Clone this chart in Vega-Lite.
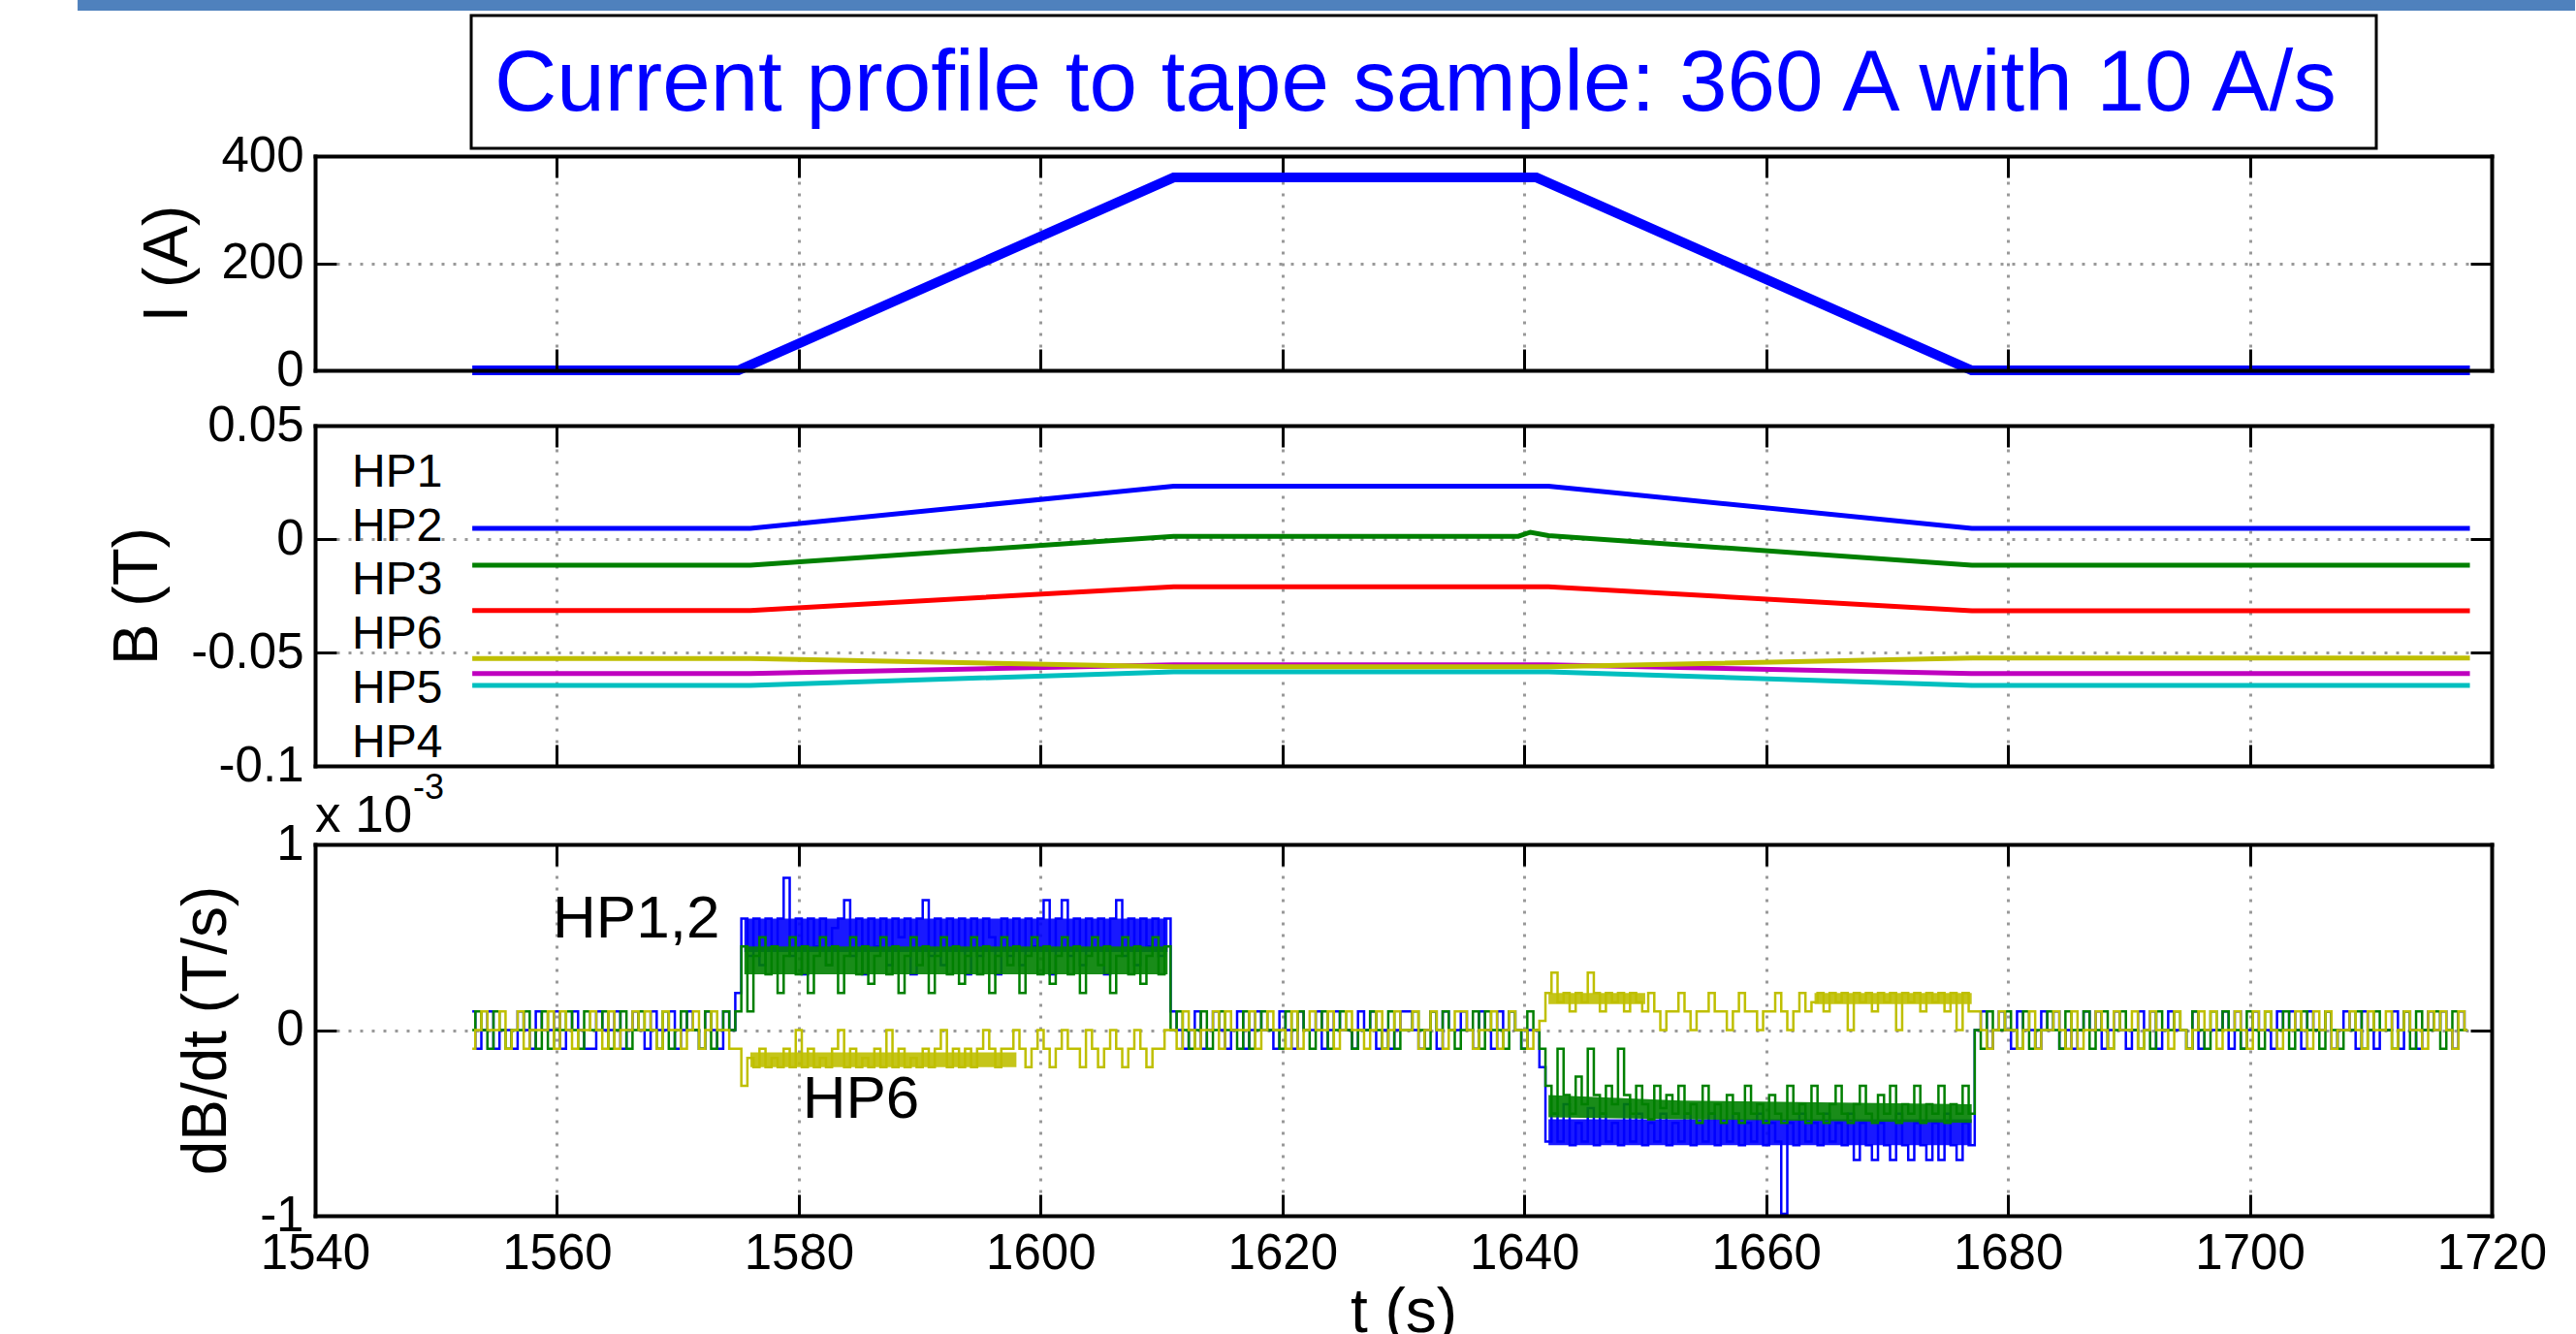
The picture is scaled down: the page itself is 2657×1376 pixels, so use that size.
{
  "$schema": "https://vega.github.io/schema/vega-lite/v6.json",
  "background": "white",
  "padding": {"left": 80, "top": 0, "right": 0, "bottom": 0},
  "config": {
    "font": "Liberation Sans",
    "view": {"stroke": null},
    "axis": {
      "domainColor": "black", "domainWidth": 4, "domainCap": "square",
      "tickColor": "black", "tickWidth": 3, "tickSize": -22,
      "labelFont": "Liberation Sans", "labelFontSize": 51, "labelColor": "black",
      "labelPadding": 34, "labelFlush": false, "labelOverlap": false,
      "titleFont": "Liberation Sans", "titleFontSize": 64, "titleFontWeight": "normal", "titleColor": "black",
      "titlePadding": 22,
      "gridColor": "#999999", "gridDash": [3, 9], "gridWidth": 3, "gridOpacity": 1
    }
  },
  "datasets": {
    "cur": [
      {"t": 1553, "I": 0}, {"t": 1575, "I": 0}, {"t": 1611, "I": 360},
      {"t": 1641, "I": 360}, {"t": 1677, "I": 0}, {"t": 1718.2, "I": 0}
    ],
    "bfield": [
      {"hp": "HP1", "t": 1553, "B": 0.0047}, {"hp": "HP1", "t": 1576, "B": 0.0047}, {"hp": "HP1", "t": 1611, "B": 0.0233}, {"hp": "HP1", "t": 1642, "B": 0.0233}, {"hp": "HP1", "t": 1677, "B": 0.0047}, {"hp": "HP1", "t": 1718.2, "B": 0.0047},
      {"hp": "HP2", "t": 1553, "B": -0.0115}, {"hp": "HP2", "t": 1576, "B": -0.0115}, {"hp": "HP2", "t": 1611, "B": 0.0012}, {"hp": "HP2", "t": 1639.5, "B": 0.0012}, {"hp": "HP2", "t": 1640.5, "B": 0.003}, {"hp": "HP2", "t": 1642, "B": 0.0015}, {"hp": "HP2", "t": 1677, "B": -0.0115}, {"hp": "HP2", "t": 1718.2, "B": -0.0115},
      {"hp": "HP3", "t": 1553, "B": -0.0315}, {"hp": "HP3", "t": 1576, "B": -0.0315}, {"hp": "HP3", "t": 1611, "B": -0.021}, {"hp": "HP3", "t": 1642, "B": -0.021}, {"hp": "HP3", "t": 1677, "B": -0.0316}, {"hp": "HP3", "t": 1718.2, "B": -0.0316},
      {"hp": "HP4", "t": 1553, "B": -0.0645}, {"hp": "HP4", "t": 1576, "B": -0.0645}, {"hp": "HP4", "t": 1611, "B": -0.0585}, {"hp": "HP4", "t": 1642, "B": -0.0585}, {"hp": "HP4", "t": 1677, "B": -0.0645}, {"hp": "HP4", "t": 1718.2, "B": -0.0645},
      {"hp": "HP5", "t": 1553, "B": -0.0593}, {"hp": "HP5", "t": 1576, "B": -0.0593}, {"hp": "HP5", "t": 1611, "B": -0.0555}, {"hp": "HP5", "t": 1642, "B": -0.0555}, {"hp": "HP5", "t": 1677, "B": -0.0593}, {"hp": "HP5", "t": 1718.2, "B": -0.0593},
      {"hp": "HP6", "t": 1553, "B": -0.0527}, {"hp": "HP6", "t": 1576, "B": -0.0527}, {"hp": "HP6", "t": 1611, "B": -0.0563}, {"hp": "HP6", "t": 1642, "B": -0.0563}, {"hp": "HP6", "t": 1677, "B": -0.0525}, {"hp": "HP6", "t": 1718.2, "B": -0.0525}
    ],
    "bands": [
      {"s": "b", "id": "bB", "t": 1575.5, "lo": 0.42, "hi": 0.6}, {"s": "b", "id": "bB", "t": 1610.5, "lo": 0.42, "hi": 0.6},
      {"s": "b", "id": "bD", "t": 1642, "lo": -0.48, "hi": -0.62}, {"s": "b", "id": "bD", "t": 1677, "lo": -0.48, "hi": -0.62},
      {"s": "g", "id": "gB", "t": 1575.5, "lo": 0.3, "hi": 0.45}, {"s": "g", "id": "gB", "t": 1610.5, "lo": 0.3, "hi": 0.45},
      {"s": "g", "id": "gD", "t": 1642, "lo": -0.35, "hi": -0.47}, {"s": "g", "id": "gD", "t": 1653, "lo": -0.38, "hi": -0.48}, {"s": "g", "id": "gD", "t": 1677, "lo": -0.4, "hi": -0.5},
      {"s": "y", "id": "yB", "t": 1576, "lo": -0.12, "hi": -0.2}, {"s": "y", "id": "yB", "t": 1598, "lo": -0.12, "hi": -0.2},
      {"s": "y", "id": "yD1", "t": 1642, "lo": 0.14, "hi": 0.2}, {"s": "y", "id": "yD1", "t": 1650, "lo": 0.14, "hi": 0.2},
      {"s": "y", "id": "yD2", "t": 1664, "lo": 0.14, "hi": 0.2}, {"s": "y", "id": "yD2", "t": 1677, "lo": 0.14, "hi": 0.2}
    ],
    "dbdt": [
      {
        "t": [1553,1553.5,1554,1554.5,1555,1555.5,1556,1556.5,1557,1557.5,1558,1558.5,1559,1559.5,1560,1560.5,1561,1561.5,1562,1562.5,1563,1563.5,1564,1564.5,1565,1565.5,1566,1566.5,1567,1567.5,1568,1568.5,1569,1569.5,1570,1570.5,1571,1571.5,1572,1572.5,1573,1573.5,1574,1574.5],
        "vb": [0.1,-0.1,0,0.1,-0.1,0,0,-0.1,0.1,0,-0.1,0.1,0,0,0.1,-0.1,0,0.1,0,-0.1,-0.1,0.1,0,0,0.1,-0.1,0,0.1,0,-0.1,0.1,0,0,0.1,-0.1,0,0.1,0,-0.1,0.1,0,-0.1,0.1,0],
        "vg": [0,0.1,0,-0.1,0.1,0,-0.1,0,0,0.1,0,-0.1,0.1,-0.1,0,0,0.1,0,-0.1,0.1,0,0,0.1,-0.1,0,0.1,-0.1,0,0.1,0,0,-0.1,0.1,-0.1,0,0.1,0,0,-0.1,0.1,-0.1,0,0.1,0],
        "vy": [-0.1,0,0.1,0,0,0.1,-0.1,0,0.1,-0.1,0,0,0,0.1,-0.1,0.1,0,-0.1,0,0,0.1,0,-0.1,0.1,-0.1,0,0,0.1,0,0.1,0,-0.1,0.1,0,0,-0.1,0,0.1,-0.1,0,0.1,0,0,-0.1]
      },
      {
        "t": [1575,1575.5,1576,1576.5,1577,1577.5,1578,1578.5,1579,1579.5,1580,1580.5,1581,1581.5,1582,1582.5,1583,1583.5,1584,1584.5,1585,1585.5,1586,1586.5,1587,1587.5,1588,1588.5,1589,1589.5,1590,1590.5,1591,1591.5,1592,1592.5,1593,1593.5,1594,1594.5,1595,1595.5,1596,1596.5,1597,1597.5,1598,1598.5,1599,1599.5,1600,1600.5,1601,1601.5,1602,1602.5,1603,1603.5,1604,1604.5,1605,1605.5,1606,1606.5,1607,1607.5,1608,1608.5,1609,1609.5,1610,1610.5],
        "vb": [0.2,0.6,0.4,0.6,0.35,0.6,0.45,0.6,0.82,0.4, 0.6,0.3,0.6,0.45,0.6,0.35,0.55,0.6,0.7,0.4, 0.6,0.3,0.6,0.45,0.6,0.35,0.6,0.5,0.6,0.3, 0.6,0.7,0.4,0.6,0.35,0.6,0.45,0.6,0.3,0.6, 0.4,0.6,0.5,0.3,0.6,0.4,0.6,0.35,0.6,0.45, 0.6,0.7,0.3,0.6,0.7,0.4,0.6,0.35,0.6,0.5, 0.6,0.3,0.6,0.7,0.4,0.6,0.35,0.6,0.45,0.6, 0.4,0.6],
        "vg": [0.1,0.45,0.1,0.4,0.5,0.3,0.45,0.2,0.4,0.5, 0.3,0.45,0.2,0.4,0.5,0.35,0.45,0.2,0.4,0.5, 0.3,0.45,0.25,0.4,0.5,0.3,0.45,0.2,0.4,0.5, 0.35,0.45,0.2,0.4,0.5,0.3,0.45,0.25,0.4,0.5, 0.3,0.45,0.2,0.4,0.5,0.35,0.45,0.2,0.4,0.5, 0.3,0.45,0.25,0.4,0.5,0.3,0.45,0.2,0.4,0.5, 0.35,0.45,0.2,0.4,0.5,0.3,0.45,0.25,0.4,0.5, 0.3,0.45],
        "vy": [-0.1,-0.3,-0.15,-0.2,-0.1,-0.2,-0.15,-0.2,-0.1,-0.2, 0,-0.2,-0.1,-0.2,-0.15,-0.2,-0.1,0,-0.2,-0.1, -0.2,-0.15,-0.2,-0.1,-0.2,0,-0.2,-0.1,-0.2,-0.15, -0.2,-0.1,-0.2,-0.1,0,-0.2,-0.1,-0.2,-0.1,-0.2, -0.1,0,-0.1,-0.2,-0.1,-0.1,0,-0.1,-0.2,-0.1, 0,-0.1,-0.2,-0.1,0,-0.1,-0.1,-0.2,0,-0.1, -0.2,-0.1,0,-0.1,-0.2,-0.1,0,-0.1,-0.2,-0.1, -0.1,0]
      },
      {
        "t": [1611,1611.5,1612,1612.5,1613,1613.5,1614,1614.5,1615,1615.5,1616,1616.5,1617,1617.5,1618,1618.5,1619,1619.5,1620,1620.5,1621,1621.5,1622,1622.5,1623,1623.5,1624,1624.5,1625,1625.5,1626,1626.5,1627,1627.5,1628,1628.5,1629,1629.5,1630,1630.5,1631,1631.5,1632,1632.5,1633,1633.5,1634,1634.5,1635,1635.5,1636,1636.5,1637,1637.5,1638,1638.5,1639,1639.5,1640,1640.5,1641],
        "vb": [0.1,0,-0.1,0,0.1,-0.1,0,0.1,0,-0.1, 0,0.1,-0.1,0,0.1,0,0,-0.1,0.1,0, -0.1,0.1,0,0,0.1,-0.1,0,0.1,0,0, -0.1,0.1,0,0.1,-0.1,0,-0.1,0,0.1,0.1, 0,-0.1,0,0.1,-0.1,0.1,0,0,0.1,0, -0.1,0.1,0,-0.1,0.1,0,0.1,0,-0.1,0, 0],
        "vg": [0,0.1,0,-0.1,0,0.1,-0.1,0,0.1,0, 0,-0.1,0.1,-0.1,0,0.1,0,0,-0.1,0.1, 0,0.1,0,-0.1,0,0.1,-0.1,0,0.1,0, -0.1,0,0,0.1,0,-0.1,0.1,-0.1,0,0, 0.1,0,-0.1,0.1,0,0.1,0,-0.1,0,0, 0.1,-0.1,0.1,0,0,-0.1,0.1,0,-0.1,0.1, 0],
        "vy": [0,-0.1,0.1,0,-0.1,0,0,0.1,-0.1,0.1, 0,0,0,0.1,-0.1,0,0.1,0,0,-0.1, 0.1,-0.1,0,0.1,0,0,0.1,-0.1,0,0.1, 0,0,-0.1,0,0.1,-0.1,0,0.1,0,0, 0.1,-0.1,0,0.1,0,-0.1,0,0.1,0.1,0, -0.1,0,0,0.1,-0.1,0,0.1,0,0,-0.1, 0]
      },
      {
        "t": [1641.5,1642,1642.5,1643,1643.5,1644,1644.5,1645,1645.5,1646,1646.5,1647,1647.5,1648,1648.5,1649,1649.5,1650,1650.5,1651,1651.5,1652,1652.5,1653,1653.5,1654,1654.5,1655,1655.5,1656,1656.5,1657,1657.5,1658,1658.5,1659,1659.5,1660,1660.5,1661,1661.5,1662,1662.5,1663,1663.5,1664,1664.5,1665,1665.5,1666,1666.5,1667,1667.5,1668,1668.5,1669,1669.5,1670,1670.5,1671,1671.5,1672,1672.5,1673,1673.5,1674,1674.5,1675,1675.5,1676,1676.5,1677],
        "vb": [-0.2,-0.6,-0.45,-0.6,-0.4,-0.62,-0.5,-0.6,-0.42,-0.62, -0.45,-0.6,-0.5,-0.62,-0.4,-0.6,-0.45,-0.62,-0.5,-0.6, -0.45,-0.62,-0.5,-0.6,-0.45,-0.62,-0.5,-0.6,-0.45,-0.62, -0.5,-0.6,-0.45,-0.62,-0.5,-0.6,-0.45,-0.62,-0.5,-0.6, -0.99,-0.5,-0.62,-0.45,-0.6,-0.5,-0.62,-0.45,-0.6,-0.5, -0.62,-0.45,-0.7,-0.5,-0.62,-0.7,-0.5,-0.62,-0.7,-0.45, -0.62,-0.7,-0.5,-0.62,-0.7,-0.5,-0.7,-0.45,-0.62,-0.7, -0.5,-0.62],
        "vg": [-0.1,-0.3,-0.45,-0.1,-0.35,-0.45,-0.25,-0.4,-0.1,-0.35, -0.45,-0.3,-0.4,-0.1,-0.35,-0.45,-0.3,-0.4,-0.48,-0.3, -0.42,-0.35,-0.45,-0.3,-0.45,-0.4,-0.5,-0.3,-0.45,-0.4, -0.5,-0.35,-0.45,-0.5,-0.3,-0.45,-0.4,-0.5,-0.35,-0.45, -0.5,-0.3,-0.45,-0.4,-0.5,-0.3,-0.45,-0.5,-0.4,-0.3, -0.45,-0.5,-0.4,-0.3,-0.45,-0.5,-0.35,-0.45,-0.3,-0.5, -0.4,-0.45,-0.3,-0.5,-0.4,-0.45,-0.3,-0.5,-0.4,-0.45, -0.3,-0.45],
        "vy": [0.05,0.2,0.31,0.15,0.2,0.1,0.2,0.15,0.31,0.2, 0.1,0.2,0.15,0.2,0.1,0.2,0.15,0.1,0.2,0.1, 0,0.1,0.1,0.2,0.1,0,0.1,0.1,0.2,0.1, 0.1,0,0.1,0.2,0.1,0.1,0,0.1,0.1,0.2, 0.1,0,0.1,0.2,0.1,0.15,0.2,0.1,0.2,0.15, 0.2,0,0.2,0.15,0.2,0.1,0.2,0.15,0.2,0, 0.2,0.15,0.2,0.1,0.2,0.15,0.2,0.1,0.2,0, 0.2,0.1]
      },
      {
        "t": [1677.5,1678,1678.5,1679,1679.5,1680,1680.5,1681,1681.5,1682,1682.5,1683,1683.5,1684,1684.5,1685,1685.5,1686,1686.5,1687,1687.5,1688,1688.5,1689,1689.5,1690,1690.5,1691,1691.5,1692,1692.5,1693,1693.5,1694,1694.5,1695,1695.5,1696,1696.5,1697,1697.5,1698,1698.5,1699,1699.5,1700,1700.5,1701,1701.5,1702,1702.5,1703,1703.5,1704,1704.5,1705,1705.5,1706,1706.5,1707,1707.5,1708,1708.5,1709,1709.5,1710,1710.5,1711,1711.5,1712,1712.5,1713,1713.5,1714,1714.5,1715,1715.5,1716,1716.5,1717,1717.5,1718],
        "vb": [0,0.1,-0.1,0,0.1,0,-0.1,0.1,0,0, -0.1,0.1,0,0.1,-0.1,0,-0.1,0,0.1,0, 0.1,-0.1,0,0.1,0,-0.1,0,0.1,0,0.1, -0.1,0,0.1,0,0,-0.1,0.1,-0.1,0,0, 0,0.1,-0.1,0.1,-0.1,0,0.1,0,0,-0.1, 0.1,0,0.1,0,-0.1,0.1,0,0,0.1,-0.1, 0,0.1,0,-0.1,0.1,0,-0.1,0,0,0.1, -0.1,0.1,0,-0.1,0,0.1,0,0.1,0,-0.1, 0.1,0],
        "vg": [0,-0.1,0.1,0,0,0.1,0,-0.1,0.1,-0.1, 0,0,0.1,0,-0.1,0.1,0,0,0.1,-0.1, 0,0.1,-0.1,0,0.1,0,0,-0.1,0,-0.1, 0.1,0,0,0.1,0,-0.1,0.1,0,-0.1,0.1, 0,0.1,0,0,-0.1,0.1,0,-0.1,0.1,0, 0,0.1,-0.1,0,0.1,0,0,-0.1,0.1,0, -0.1,0,0,0.1,-0.1,0,0.1,0,0,-0.1, 0,0.1,-0.1,0.1,0,0,0.1,-0.1,0,0.1, 0,0],
        "vy": [0.1,0,-0.1,0,0.1,0,0,-0.1,0,0.1, -0.1,0,0,0.1,0,-0.1,0.1,-0.1,0,0, 0.1,0,-0.1,0.1,0,0,0.1,-0.1,0,0.1, 0,0,-0.1,0.1,0,-0.1,0,0.1,0,0.1, -0.1,0,0,0.1,0,-0.1,0.1,0,0.1,0, -0.1,0,0,0.1,0,-0.1,0.1,0,0.1,-0.1, 0,0,0.1,0,-0.1,0.1,0,0,0.1,-0.1, 0,0.1,0,0,-0.1,0.1,0,0.1,0,-0.1, 0.1,0]
      }
    ]
  },
  "spacing": 0,
  "bounds": "flush",
  "vconcat": [
    {
      "width": 2245,
      "height": 221,
      "resolve": {"axis": {"x": "independent", "y": "independent"}},
      "layer": [
        {
          "data": {"values": [{"t1": 1520.36, "t2": 1726.9, "i1": 671.5, "i2": 691.4}]},
          "mark": {"type": "rect", "color": "#4F81BD"},
          "encoding": {
            "x": {"field": "t1", "type": "quantitative", "scale": {"domain": [1540, 1720], "nice": false, "zero": false}, "axis": null},
            "x2": {"field": "t2"},
            "y": {"field": "i1", "type": "quantitative", "scale": {"domain": [0, 400], "nice": false, "zero": false}, "axis": null},
            "y2": {"field": "i2"}
          }
        },
        {
          "data": {"values": [{"t1": 1552.91, "t2": 1710.46, "i1": 414.5, "i2": 662.4}]},
          "mark": {"type": "rect", "fill": "white", "stroke": "black", "strokeWidth": 3},
          "encoding": {
            "x": {"field": "t1", "type": "quantitative", "scale": {"domain": [1540, 1720], "nice": false, "zero": false}, "axis": null},
            "x2": {"field": "t2"},
            "y": {"field": "i1", "type": "quantitative", "scale": {"domain": [0, 400], "nice": false, "zero": false}, "axis": null},
            "y2": {"field": "i2"}
          }
        },
        {
          "data": {"values": [{"t": 1631.0, "i": 485.1, "label": "Current profile to tape sample: 360 A with 10 A/s"}]},
          "mark": {"type": "text", "font": "Liberation Sans", "fontSize": 89, "color": "#0000FF", "align": "center", "baseline": "alphabetic"},
          "encoding": {
            "x": {"field": "t", "type": "quantitative", "scale": {"domain": [1540, 1720], "nice": false, "zero": false},
                  "axis": {"orient": "top", "values": [1540,1560,1580,1600,1620,1640,1660,1680,1700,1720], "labels": false, "title": null, "grid": true, "zindex": 0}},
            "y": {"field": "i", "type": "quantitative", "scale": {"domain": [0, 400], "nice": false, "zero": false},
                  "axis": {"orient": "right", "values": [0, 200, 400], "labels": false, "title": null, "grid": true, "zindex": 0}},
            "text": {"field": "label"}
          }
        },
        {
          "data": {"name": "cur"},
          "mark": {"type": "line", "color": "#0000FF", "strokeWidth": 10},
          "encoding": {
            "x": {"field": "t", "type": "quantitative", "scale": {"domain": [1540, 1720], "nice": false, "zero": false},
                  "axis": {"orient": "bottom", "values": [1540,1560,1580,1600,1620,1640,1660,1680,1700,1720], "labels": false, "title": null, "grid": false, "zindex": 1}},
            "y": {"field": "I", "type": "quantitative", "scale": {"domain": [0, 400], "nice": false, "zero": false},
                  "axis": {"orient": "left", "values": [0, 200, 400], "format": "d", "title": "I (A)", "grid": false, "zindex": 1}}
          }
        }
      ]
    },
    {
      "width": 2245,
      "height": 57,
      "data": {"values": []},
      "mark": {"type": "point", "opacity": 0},
      "encoding": {}
    },
    {
      "width": 2245,
      "height": 351,
      "resolve": {"axis": {"x": "independent", "y": "independent"}},
      "layer": [
        {
          "data": {"name": "bfield"},
          "mark": {"type": "line", "strokeWidth": 5},
          "encoding": {
            "x": {"field": "t", "type": "quantitative", "scale": {"domain": [1540, 1720], "nice": false, "zero": false},
                  "axis": {"orient": "bottom", "values": [1540,1560,1580,1600,1620,1640,1660,1680,1700,1720], "labels": false, "title": null, "grid": false, "zindex": 1}},
            "y": {"field": "B", "type": "quantitative", "scale": {"domain": [-0.1, 0.05], "nice": false, "zero": false},
                  "axis": {"orient": "left", "values": [-0.1, -0.05, 0, 0.05], "format": "~g", "labelExpr": "replace(datum.label, '\u2212', '-')", "title": "B (T)", "grid": false, "zindex": 1}},
            "color": {"field": "hp", "type": "nominal",
                      "scale": {"domain": ["HP1","HP2","HP3","HP4","HP5","HP6"], "range": ["#0000FF","#008000","#FF0000","#00BFBF","#BF00BF","#BFBF00"]},
                      "legend": null}
          }
        },
        {
          "data": {"values": [
            {"t": 1543.05, "B": 0.0232, "label": "HP1"},
            {"t": 1543.05, "B": -0.0009, "label": "HP2"},
            {"t": 1543.05, "B": -0.0244, "label": "HP3"},
            {"t": 1543.05, "B": -0.0483, "label": "HP6"},
            {"t": 1543.05, "B": -0.0721, "label": "HP5"},
            {"t": 1543.05, "B": -0.0960, "label": "HP4"}
          ]},
          "mark": {"type": "text", "font": "Liberation Sans", "fontSize": 48, "color": "black", "align": "left", "baseline": "alphabetic"},
          "encoding": {
            "x": {"field": "t", "type": "quantitative", "scale": {"domain": [1540, 1720], "nice": false, "zero": false},
                  "axis": {"orient": "top", "values": [1540,1560,1580,1600,1620,1640,1660,1680,1700,1720], "labels": false, "title": null, "grid": true, "zindex": 0}},
            "y": {"field": "B", "type": "quantitative", "scale": {"domain": [-0.1, 0.05], "nice": false, "zero": false},
                  "axis": {"orient": "right", "values": [-0.1, -0.05, 0, 0.05], "labels": false, "title": null, "grid": true, "zindex": 0}},
            "text": {"field": "label"}
          }
        }
      ]
    },
    {
      "width": 2245,
      "height": 81,
      "data": {"values": []},
      "mark": {"type": "point", "opacity": 0},
      "encoding": {}
    },
    {
      "width": 2245,
      "height": 383,
      "resolve": {"axis": {"x": "independent", "y": "independent"}},
      "layer": [
        {
          "data": {"name": "bands"},
          "transform": [{"filter": "datum.s === 'b'"}],
          "mark": {"type": "area", "color": "#0000FF", "opacity": 0.9},
          "encoding": {
            "x": {"field": "t", "type": "quantitative", "scale": {"domain": [1540, 1720], "nice": false, "zero": false}, "axis": null},
            "y": {"field": "lo", "type": "quantitative", "scale": {"domain": [-1, 1], "nice": false, "zero": false}, "axis": null},
            "y2": {"field": "hi"},
            "detail": {"field": "id"}
          }
        },
        {
          "data": {"name": "dbdt"},
          "transform": [{"flatten": ["t", "vb", "vg", "vy"]}],
          "mark": {"type": "line", "interpolate": "step", "color": "#0000FF", "strokeWidth": 2.5},
          "encoding": {
            "x": {"field": "t", "type": "quantitative", "scale": {"domain": [1540, 1720], "nice": false, "zero": false},
                  "axis": {"orient": "bottom", "values": [1540,1560,1580,1600,1620,1640,1660,1680,1700,1720], "format": "d", "labelFlush": false, "labelPadding": 36, "title": "t (s)", "titlePadding": 4, "grid": false, "zindex": 1}},
            "y": {"field": "vb", "type": "quantitative", "scale": {"domain": [-1, 1], "nice": false, "zero": false},
                  "axis": {"orient": "left", "values": [-1, 0, 1], "format": "~g", "labelExpr": "replace(datum.label, '\u2212', '-')", "title": "dB/dt (T/s)", "grid": false, "zindex": 1}}
          }
        },
        {
          "data": {"name": "bands"},
          "transform": [{"filter": "datum.s === 'g'"}],
          "mark": {"type": "area", "color": "#008000", "opacity": 0.9},
          "encoding": {
            "x": {"field": "t", "type": "quantitative", "scale": {"domain": [1540, 1720], "nice": false, "zero": false}, "axis": null},
            "y": {"field": "lo", "type": "quantitative", "scale": {"domain": [-1, 1], "nice": false, "zero": false}, "axis": null},
            "y2": {"field": "hi"},
            "detail": {"field": "id"}
          }
        },
        {
          "data": {"name": "dbdt"},
          "transform": [{"flatten": ["t", "vb", "vg", "vy"]}],
          "mark": {"type": "line", "interpolate": "step", "color": "#008000", "strokeWidth": 2.5},
          "encoding": {
            "x": {"field": "t", "type": "quantitative", "scale": {"domain": [1540, 1720], "nice": false, "zero": false},
                  "axis": {"orient": "top", "values": [1540,1560,1580,1600,1620,1640,1660,1680,1700,1720], "labels": false, "title": null, "grid": true, "zindex": 0}},
            "y": {"field": "vg", "type": "quantitative", "scale": {"domain": [-1, 1], "nice": false, "zero": false},
                  "axis": {"orient": "right", "values": [-1, 0, 1], "labels": false, "title": null, "grid": true, "zindex": 0}}
          }
        },
        {
          "data": {"name": "bands"},
          "transform": [{"filter": "datum.s === 'y'"}],
          "mark": {"type": "area", "color": "#BFBF00", "opacity": 0.9},
          "encoding": {
            "x": {"field": "t", "type": "quantitative", "scale": {"domain": [1540, 1720], "nice": false, "zero": false}, "axis": null},
            "y": {"field": "lo", "type": "quantitative", "scale": {"domain": [-1, 1], "nice": false, "zero": false}, "axis": null},
            "y2": {"field": "hi"},
            "detail": {"field": "id"}
          }
        },
        {
          "data": {"name": "dbdt"},
          "transform": [{"flatten": ["t", "vb", "vg", "vy"]}],
          "mark": {"type": "line", "interpolate": "step", "color": "#BFBF00", "strokeWidth": 2.5},
          "encoding": {
            "x": {"field": "t", "type": "quantitative", "scale": {"domain": [1540, 1720], "nice": false, "zero": false}, "axis": null},
            "y": {"field": "vy", "type": "quantitative", "scale": {"domain": [-1, 1], "nice": false, "zero": false}, "axis": null}
          }
        },
        {
          "data": {"values": [
            {"t": 1559.65, "v": 0.5, "label": "HP1,2"},
            {"t": 1580.3, "v": -0.47, "label": "HP6"}
          ]},
          "mark": {"type": "text", "font": "Liberation Sans", "fontSize": 62, "color": "black", "align": "left", "baseline": "alphabetic"},
          "encoding": {
            "x": {"field": "t", "type": "quantitative", "scale": {"domain": [1540, 1720], "nice": false, "zero": false}, "axis": null},
            "y": {"field": "v", "type": "quantitative", "scale": {"domain": [-1, 1], "nice": false, "zero": false}, "axis": null},
            "text": {"field": "label"}
          }
        },
        {
          "data": {"values": [{"t": 1540, "v": 1.068, "label": "x 10"}]},
          "mark": {"type": "text", "font": "Liberation Sans", "fontSize": 53, "color": "black", "align": "left", "baseline": "alphabetic"},
          "encoding": {
            "x": {"field": "t", "type": "quantitative", "scale": {"domain": [1540, 1720], "nice": false, "zero": false}, "axis": null},
            "y": {"field": "v", "type": "quantitative", "scale": {"domain": [-1, 1], "nice": false, "zero": false}, "axis": null},
            "text": {"field": "label"}
          }
        },
        {
          "data": {"values": [{"t": 1548.1, "v": 1.245, "label": "-3"}]},
          "mark": {"type": "text", "font": "Liberation Sans", "fontSize": 36, "color": "black", "align": "left", "baseline": "alphabetic"},
          "encoding": {
            "x": {"field": "t", "type": "quantitative", "scale": {"domain": [1540, 1720], "nice": false, "zero": false}, "axis": null},
            "y": {"field": "v", "type": "quantitative", "scale": {"domain": [-1, 1], "nice": false, "zero": false}, "axis": null},
            "text": {"field": "label"}
          }
        }
      ]
    }
  ]
}
